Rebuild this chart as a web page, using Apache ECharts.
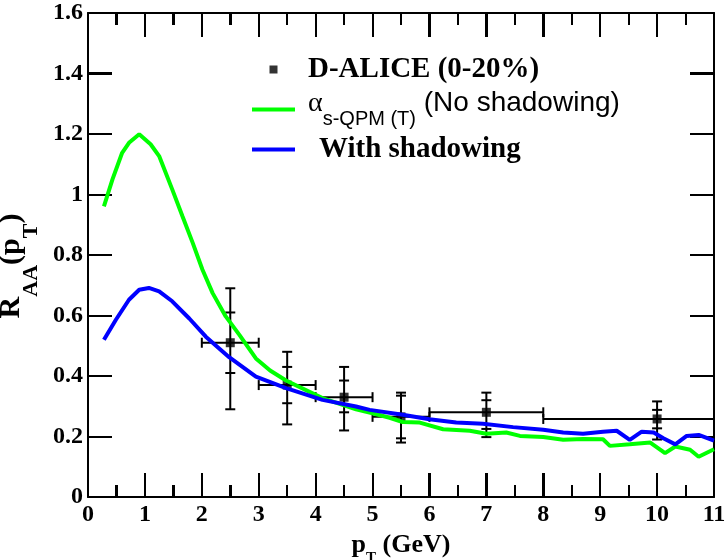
<!DOCTYPE html>
<html>
<head>
<meta charset="utf-8">
<script src="https://cdn.jsdelivr.net/npm/echarts@6/dist/echarts.min.js"></script>
<style>
  html, body { margin: 0; padding: 0; background: #fff; }
  #chart { width: 728px; height: 560px; }
</style>
</head>
<body>
<div id="chart"></div>
<script>
// ---- axis ranges ----
const xMin = 0, xMax = 11, xStep = 1;
const yMin = 0, yMax = 1.6, yStep = 0.2;

// ---- D-ALICE (0-20%) data points ----
const ptData    = [2.5, 3.5, 4.5, 5.5, 7.0, 10.0];
const raaData   = [0.51, 0.37, 0.33, 0.265, 0.28, 0.258];
const ptLow     = [2.0, 3.0, 4.0, 5.0, 6.0, 8.0];
const ptHigh    = [3.0, 4.0, 5.0, 6.0, 8.0, 12.0];
const systLow   = [0.29, 0.24, 0.22, 0.18, 0.198, 0.19];
const systHigh  = [0.69, 0.48, 0.43, 0.345, 0.345, 0.316];
const statLow   = [0.41, 0.31, 0.28, 0.194, 0.225, 0.227];
const statHigh  = [0.61, 0.43, 0.385, 0.335, 0.32, 0.288];

// ---- alpha_s-QPM(T), no shadowing (green) ----
const noShadowing = [
  [0.28,0.961],[0.43,1.05],[0.60,1.138],[0.72,1.171],[0.90,1.199],[1.10,1.166],
  [1.25,1.127],[1.48,1.017],[1.66,0.928],[1.84,0.84],[2.01,0.752],[2.19,0.674],
  [2.42,0.597],[2.66,0.536],[2.95,0.458],[3.2,0.418],[3.48,0.385],[4.12,0.327],
  [4.71,0.29],[5.0,0.277],[5.3,0.262],[5.53,0.248],[5.83,0.246],[6.24,0.224],
  [6.71,0.219],[7.0,0.209],[7.35,0.213],[7.59,0.202],[8.0,0.198],[8.35,0.189],
  [8.70,0.192],[9.05,0.191],[9.17,0.169],[9.52,0.174],[9.88,0.180],[10.14,0.145],
  [10.32,0.167],[10.58,0.156],[10.73,0.133],[11.0,0.158]
];

// ---- with shadowing (blue) ----
const withShadowing = [
  [0.28,0.52],[0.49,0.586],[0.72,0.652],[0.90,0.685],[1.07,0.691],[1.25,0.68],
  [1.48,0.647],[1.78,0.59],[2.07,0.53],[2.48,0.462],[2.95,0.398],[3.48,0.36],
  [4.12,0.321],[4.71,0.299],[4.95,0.288],[5.53,0.272],[6.0,0.257],[6.47,0.246],
  [6.94,0.242],[7.47,0.231],[8.0,0.222],[8.35,0.213],[8.70,0.209],[9.05,0.216],
  [9.29,0.219],[9.52,0.189],[9.73,0.216],[9.94,0.213],[10.11,0.194],[10.32,0.174],
  [10.52,0.202],[10.73,0.205],[11.0,0.186]
];

// ---- legend / labels ----
const nameData = 'D-ALICE (0-20%)';
const nameNoSh = 'alpha_s-QPM (No shadowing)';
const nameWithSh = 'With shadowing';

const SERIF = '"Liberation Serif", "Times New Roman", serif';
const SANS = '"Liberation Sans", Arial, sans-serif';

const pointRows = ptData.map((x, i) => [x, raaData[i]]);
const errRows = ptData.map((x, i) => [x, raaData[i], ptLow[i], ptHigh[i], systLow[i], systHigh[i], statLow[i], statHigh[i]]);

const chart = echarts.init(document.getElementById('chart'), null, { renderer: 'canvas' });

function axisCommon() {
  return {
    axisLine: { show: true, onZero: false, lineStyle: { color: '#000', width: 2 } },
    axisTick: { show: true, inside: true, length: 24, lineStyle: { color: '#000', width: 2 } },
    splitLine: { show: false }
  };
}

const legendFmt = {};
legendFmt[nameData] = '{g|}{b|D-ALICE (0-20%)}';
legendFmt[nameNoSh] = '{g2|}{a|α}{s|s-QPM (T)}{n| (No shadowing)}';
legendFmt[nameWithSh] = '{g3|}{b|With shadowing}';

const lineIcon = 'path://M0 0L43 0L43 4L0 4Z';

const option = {
  animation: false,
  backgroundColor: '#fff',
  grid: { left: 88, right: 14, top: 13, bottom: 63, containLabel: false, outerBoundsMode: 'none' },
  legend: {
    orient: 'vertical',
    left: 252,
    top: 55,
    padding: 0,
    itemWidth: 43,
    itemHeight: 8,
    itemGap: 5.5,
    selectedMode: false,
    data: [
      { name: nameData, icon: 'path://M0 0L10 0L10 10L0 10Z' },
      { name: nameNoSh, icon: lineIcon },
      { name: nameWithSh, icon: lineIcon }
    ],
    formatter: function (n) { return legendFmt[n]; },
    textStyle: {
      color: '#000',
      rich: {
        g:  { width: 8, lineHeight: 30 },
        g2: { width: 8, lineHeight: 40 },
        g3: { width: 19, lineHeight: 30 },
        b:  { fontFamily: SERIF, fontWeight: 'bold', fontSize: 29, lineHeight: 30, color: '#000' },
        a:  { fontFamily: SERIF, fontSize: 28, lineHeight: 33, verticalAlign: 'top', color: '#000' },
        s:  { fontFamily: SANS, fontSize: 20, lineHeight: 22, verticalAlign: 'bottom', color: '#000' },
        n:  { fontFamily: SANS, fontSize: 28, lineHeight: 33, verticalAlign: 'top', color: '#000' }
      }
    }
  },
  xAxis: [
    Object.assign(axisCommon(), {
      type: 'value', position: 'bottom', min: xMin, max: xMax, interval: xStep,
      minorTick: { show: true, splitNumber: 2, length: 12, lineStyle: { color: '#000', width: 2 } },
      axisLabel: { show: true, margin: 6, color: '#000', fontFamily: SERIF, fontWeight: 'bold', fontSize: 24 },
      name: '{z|}{m|p}{s|T}{m| (GeV)}',
      nameLocation: 'middle',
      nameGap: 31,
      nameTextStyle: {
        rich: {
          z: { width: 0, lineHeight: 34 },
          m: { fontFamily: SERIF, fontWeight: 'bold', fontSize: 26, lineHeight: 30, verticalAlign: 'top', color: '#000' },
          s: { fontFamily: SERIF, fontWeight: 'bold', fontSize: 15, lineHeight: 19, verticalAlign: 'bottom', color: '#000' }
        }
      }
    }),
    Object.assign(axisCommon(), {
      type: 'value', position: 'top', min: xMin, max: xMax, interval: xStep,
      minorTick: { show: true, splitNumber: 2, length: 12, lineStyle: { color: '#000', width: 2 } },
      axisLabel: { show: false }
    })
  ],
  yAxis: [
    Object.assign(axisCommon(), {
      type: 'value', position: 'left', min: yMin, max: yMax, interval: yStep,
      axisLabel: { show: true, margin: 5, color: '#000', fontFamily: SERIF, fontWeight: 'bold', fontSize: 24 },
      name: '{z|}{m|R}{s|AA}{m|(p}{s|T}{m|)}',
      nameLocation: 'middle',
      nameRotate: 90,
      nameGap: 28,
      nameTextStyle: {
        padding: [0, 22, 0, 0],
        rich: {
          z: { width: 0, lineHeight: 46 },
          m: { fontFamily: SERIF, fontWeight: 'bold', fontSize: 30, lineHeight: 34, verticalAlign: 'top', color: '#000' },
          s: { fontFamily: SERIF, fontWeight: 'bold', fontSize: 22, lineHeight: 22, verticalAlign: 'bottom', color: '#000' }
        }
      }
    }),
    Object.assign(axisCommon(), {
      type: 'value', position: 'right', min: yMin, max: yMax, interval: yStep,
      axisLabel: { show: false }
    })
  ],
  series: [
    {
      type: 'custom',
      name: 'errors',
      z: 1,
      silent: true,
      data: errRows,
      encode: { x: [0, 2, 3], y: [1, 4, 5, 6, 7] },
      renderItem: function (params, api) {
        const cs = params.coordSys;
        const xL = cs.x, xR = cs.x + cs.width;
        const x = api.value(0), y = api.value(1);
        const p = api.coord([x, y]);
        const pl = api.coord([api.value(2), y]);
        const ph = api.coord([api.value(3), y]);
        const s0 = api.coord([x, api.value(4)]);
        const s1 = api.coord([x, api.value(5)]);
        const t0 = api.coord([x, api.value(6)]);
        const t1 = api.coord([x, api.value(7)]);
        const cap = 5;
        const L = (x1, y1, x2, y2) => ({ type: 'line', shape: { x1, y1, x2, y2 }, style: { stroke: '#000', lineWidth: 2 } });
        const kids = [];
        kids.push(L(p[0], s0[1], p[0], s1[1]));
        [s0, s1, t0, t1].forEach(q => kids.push(L(p[0] - cap, q[1], p[0] + cap, q[1])));
        const hx0 = Math.max(pl[0], xL), hx1 = Math.min(ph[0], xR);
        kids.push(L(hx0, p[1], hx1, p[1]));
        if (pl[0] >= xL) kids.push(L(pl[0], p[1] - cap, pl[0], p[1] + cap));
        if (ph[0] <= xR) kids.push(L(ph[0], p[1] - cap, ph[0], p[1] + cap));
        return { type: 'group', children: kids };
      }
    },
    {
      type: 'scatter',
      name: nameData,
      z: 2,
      symbol: 'rect',
      symbolSize: 9,
      itemStyle: { color: '#000' },
      data: pointRows,
      silent: true
    },
    {
      type: 'line',
      name: nameNoSh,
      z: 3,
      symbol: 'none',
      showSymbol: false,
      lineStyle: { color: '#00ff00', width: 4 },
      itemStyle: { color: '#00ff00' },
      data: noShadowing,
      silent: true
    },
    {
      type: 'line',
      name: nameWithSh,
      z: 4,
      symbol: 'none',
      showSymbol: false,
      lineStyle: { color: '#0000ff', width: 4 },
      itemStyle: { color: '#0000ff' },
      data: withShadowing,
      silent: true
    }
  ]
};

chart.setOption(option);

// Inward tick marks on all four frame sides, positioned through the chart's own axis scales.
try {
  const toPx = (v) => chart.convertToPixel({ gridIndex: 0 }, v);
  const o = toPx([xMin, yMin]);
  const e = toPx([xMax, yMax]);
  const left = Math.round(o[0]), bottom = Math.round(o[1]);
  const right = Math.round(e[0]), top = Math.round(e[1]);
  const ticks = [];
  const seg = (x1, y1, x2, y2) => ticks.push({
    type: 'line', silent: true, z: 0,
    shape: { x1: x1, y1: y1, x2: x2, y2: y2 },
    style: { stroke: '#000', lineWidth: 2 }
  });
  const nx = Math.round((xMax - xMin) / xStep);
  for (let i = 0; i <= nx * 2; i++) {
    const v = xMin + i * xStep / 2;
    const px = Math.round(toPx([v, yMin])[0]);
    const len = (i % 2 === 0) ? 24 : 12;
    seg(px, bottom, px, bottom - len);
    seg(px, top, px, top + len);
  }
  const ny = Math.round((yMax - yMin) / yStep);
  for (let j = 0; j <= ny; j++) {
    const v = yMin + j * yStep;
    const py = Math.round(toPx([xMin, v])[1]);
    seg(left, py, left + 24, py);
    seg(right, py, right - 24, py);
  }
  chart.setOption({ graphic: [{ type: 'group', silent: true, children: ticks }] });
} catch (err) {
  // leave the axis-drawn ticks as they are
}
</script>
</body>
</html>
